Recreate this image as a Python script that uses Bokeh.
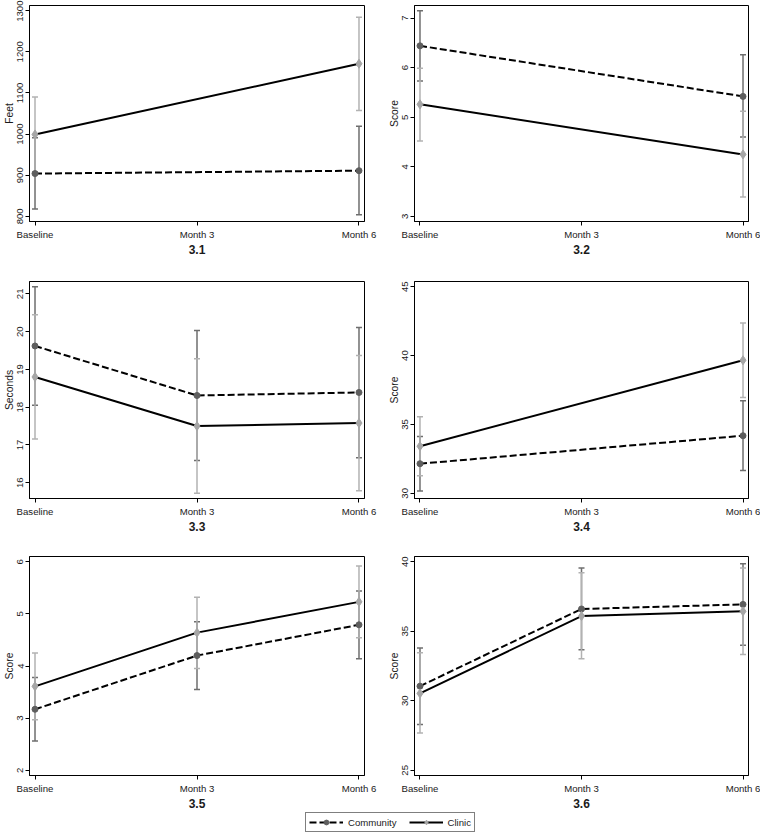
from bokeh.plotting import figure
from bokeh.layouts import column, row
from bokeh.models import (ColumnDataSource, Whisker, TeeHead, FixedTicker,
                          Range1d, Legend, LegendItem)
from bokeh.embed import file_html
from bokeh.resources import INLINE

# ---------------- data ----------------
categories = ["Baseline", "Month 3", "Month 6"]
panel_titles = ["3.1", "3.2", "3.3", "3.4", "3.5", "3.6"]
y_labels = ["Feet", "Score", "Seconds", "Score", "Score", "Score"]
y_ticks = [
    [800, 900, 1000, 1100, 1200, 1300],
    [3, 4, 5, 6, 7],
    [16, 17, 18, 19, 20, 21],
    [30, 35, 40, 45],
    [2, 3, 4, 5, 6],
    [25, 30, 35, 40],
]
panel_times = [
    ["Baseline", "Month 6"],
    ["Baseline", "Month 6"],
    ["Baseline", "Month 3", "Month 6"],
    ["Baseline", "Month 6"],
    ["Baseline", "Month 3", "Month 6"],
    ["Baseline", "Month 3", "Month 6"],
]
community_mean = [
    [904, 911],
    [6.44, 5.42],
    [19.62, 18.31, 18.39],
    [32.15, 34.18],
    [3.17, 4.20, 4.79],
    [31.05, 36.60, 36.93],
]
community_lower = [
    [818, 804],
    [5.73, 4.60],
    [18.05, 16.59, 16.66],
    [30.17, 31.65],
    [2.56, 3.55, 4.14],
    [28.30, 33.66, 33.99],
]
community_upper = [
    [991, 1019],
    [7.15, 6.26],
    [21.19, 20.03, 20.11],
    [34.12, 36.72],
    [3.78, 4.85, 5.44],
    [33.79, 39.54, 39.86],
]
clinic_mean = [
    [999, 1171],
    [5.26, 4.25],
    [18.80, 17.50, 17.58],
    [33.42, 39.66],
    [3.61, 4.64, 5.23],
    [30.53, 36.09, 36.43],
]
clinic_lower = [
    [908, 1057],
    [4.52, 3.39],
    [17.16, 15.72, 15.79],
    [31.28, 36.96],
    [2.97, 3.95, 4.54],
    [27.68, 33.02, 33.33],
]
clinic_upper = [
    [1090, 1284],
    [5.99, 5.12],
    [20.45, 19.28, 19.37],
    [35.56, 42.37],
    [4.25, 5.32, 5.92],
    [33.45, 39.20, 39.54],
]
legend_labels = ["Community", "Clinic"]

# ---------------- styles ----------------
FONT = "Liberation Sans"
TEXT = "#1a1a1a"
COMM_MARK = "#5e5e5e"
COMM_BAR = "#6e6e6e"
CLIN_MARK = "#a6a6a6"
CLIN_BAR = "#b2b2b2"
DASH = "7 3"

col_widths = [385, 375]
right_borders = [21, 12]
row_heights = [276, 275, 260]
top_borders = [5, 5, 5]
bottom_borders = [55, 53, 36]


def make_panel(i):
    r, c = divmod(i, 2)
    lo = min(y_ticks[i][0], min(community_lower[i]), min(clinic_lower[i]))
    hi = max(y_ticks[i][-1], max(community_upper[i]), max(clinic_upper[i]))
    pad = 0.025 * (hi - lo)
    p = figure(width=col_widths[c], height=row_heights[r],
               x_range=Range1d(-0.034, 2.034), y_range=Range1d(lo - pad, hi + pad),
               toolbar_location=None, output_backend="svg",
               min_border_left=26, min_border_right=right_borders[c],
               min_border_top=top_borders[r], min_border_bottom=bottom_borders[r],
               title=panel_titles[i], title_location="below")
    p.outline_line_color = "black"
    p.outline_line_width = 1
    p.grid.visible = False
    p.background_fill_color = "white"
    p.border_fill_color = "white"

    p.title.align = "center"
    p.title.text_font = FONT
    p.title.text_font_size = "12px"
    p.title.text_font_style = "bold"
    p.title.text_color = TEXT
    p.title.standoff = 0

    xs = [categories.index(t) for t in panel_times[i]]

    src_c = ColumnDataSource(dict(x=xs, m=community_mean[i],
                                  lo=community_lower[i], hi=community_upper[i]))
    src_k = ColumnDataSource(dict(x=xs, m=clinic_mean[i],
                                  lo=clinic_lower[i], hi=clinic_upper[i]))
    for src, col in ((src_c, COMM_BAR), (src_k, CLIN_BAR)):
        w = Whisker(base="x", lower="lo", upper="hi", source=src, dimension="height",
                    line_color=col, line_width=1.5, level="underlay",
                    upper_head=TeeHead(size=6, line_color=col, line_width=1.5),
                    lower_head=TeeHead(size=6, line_color=col, line_width=1.5))
        p.add_layout(w)

    p.line("x", "m", source=src_c, line_color="black", line_width=2, line_dash=DASH)
    p.line("x", "m", source=src_k, line_color="black", line_width=2)
    p.scatter("x", "m", source=src_c, marker="circle", size=6,
              fill_color=COMM_MARK, line_color=COMM_MARK)
    p.scatter("x", "m", source=src_k, marker="diamond", size=9,
              fill_color=CLIN_MARK, line_color=CLIN_MARK)

    p.xaxis.ticker = FixedTicker(ticks=list(range(len(categories))))
    p.xaxis.major_label_overrides = {k: v for k, v in enumerate(categories)}
    p.yaxis.ticker = FixedTicker(ticks=y_ticks[i])
    p.yaxis.major_label_orientation = "vertical"
    p.yaxis.axis_label = y_labels[i]
    for ax in (p.xaxis, p.yaxis):
        ax.axis_line_color = "black"
        ax.major_tick_line_color = "black"
        ax.minor_tick_line_color = None
        ax.major_tick_out = 4
        ax.major_tick_in = 0
        ax.major_label_text_font = FONT
        ax.major_label_text_font_size = "9.6px"
        ax.major_label_text_color = TEXT
        ax.axis_label_text_font = FONT
        ax.axis_label_text_font_size = "10.3px"
        ax.axis_label_text_font_style = "normal"
        ax.axis_label_text_color = TEXT
    p.xaxis.major_label_standoff = 3
    p.yaxis.major_label_standoff = 2
    p.yaxis.axis_label_standoff = 0
    return p


panels = [make_panel(i) for i in range(6)]

# ---------------- legend ----------------
lf = figure(width=760, height=24, x_axis_type=None, y_axis_type=None,
            x_range=Range1d(0, 1), y_range=Range1d(0, 1),
            toolbar_location=None, output_backend="svg", min_border=0)
lf.outline_line_color = None
lf.grid.visible = False
nan_src = ColumnDataSource(dict(x=[float("nan")], y=[float("nan")]))
rc1 = lf.line("x", "y", source=nan_src, line_color="black", line_width=2, line_dash=DASH)
rc2 = lf.scatter("x", "y", source=nan_src, marker="circle", size=6,
                 fill_color=COMM_MARK, line_color=COMM_MARK)
rk1 = lf.line("x", "y", source=nan_src, line_color="black", line_width=2)
rk2 = lf.scatter("x", "y", source=nan_src, marker="diamond", size=9,
                 fill_color=CLIN_MARK, line_color=CLIN_MARK)
leg = Legend(items=[LegendItem(label=legend_labels[0], renderers=[rc1, rc2]),
                    LegendItem(label=legend_labels[1], renderers=[rk1, rk2])],
             orientation="horizontal", location=(305, 3),
             border_line_color="black", border_line_width=1,
             background_fill_color="white", background_fill_alpha=1,
             label_text_font=FONT, label_text_font_size="9.6px", label_text_color=TEXT,
             glyph_width=34, glyph_height=12, label_standoff=5, spacing=12,
             padding=3, margin=0, label_height=12)
lf.add_layout(leg)

layout = column(row(panels[0], panels[1]),
                row(panels[2], panels[3]),
                row(panels[4], panels[5]),
                lf)

open("out.html", "w").write(file_html(layout, INLINE))
